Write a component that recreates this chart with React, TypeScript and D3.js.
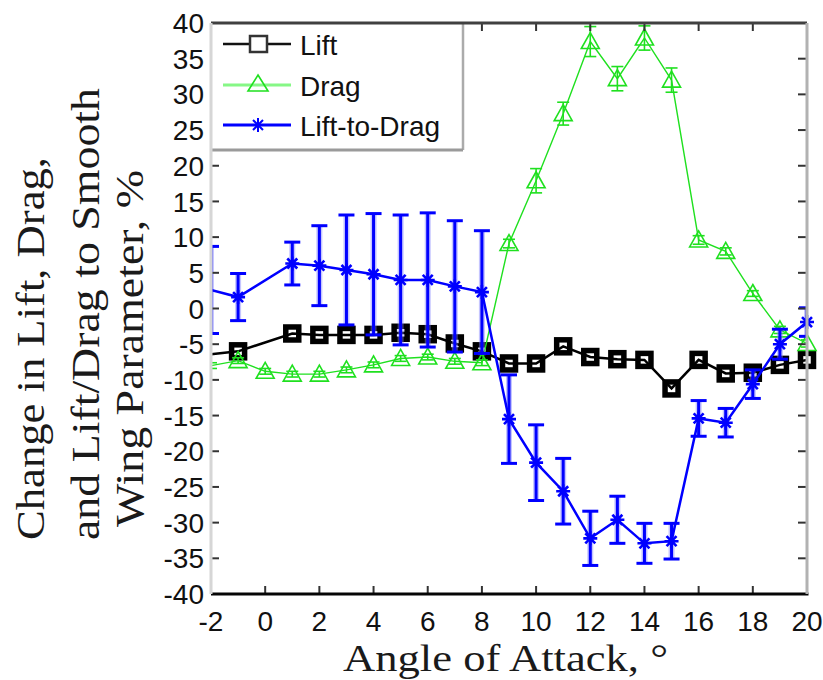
import React from "react";
import * as d3 from "d3";

// Angle of attack (degrees) for each series
const liftAngles = [-2, -1, 1, 2, 3, 4, 5, 6, 7, 8, 9, 10, 11, 12, 13, 14, 15, 16, 17, 18, 19, 20];
const liftValues = [-6.4, -6.0, -3.5, -3.7, -3.7, -3.7, -3.4, -3.6, -4.9, -6.0, -7.7, -7.7, -5.3, -6.8, -7.1, -7.2, -11.2, -7.2, -9.1, -9.0, -7.9, -7.2];

const dragAngles = [-2, -1, 0, 1, 2, 3, 4, 5, 6, 7, 8, 9, 10, 11, 12, 13, 14, 15, 16, 17, 18, 19, 20];
const dragValues = [-8.0, -7.3, -8.8, -9.2, -9.2, -8.6, -7.9, -7.0, -6.8, -7.4, -7.6, 9.1, 17.9, 27.3, 37.4, 32.2, 37.9, 32.0, 9.6, 8.0, 2.1, -3.0, -4.9];
const dragErrors = [0.4, 0.4, 0.4, 0.4, 0.4, 0.4, 0.4, 0.4, 0.4, 0.4, 0.4, 0.6, 1.7, 1.6, 2.1, 1.7, 1.7, 1.7, 0.6, 0.5, 0.4, 0.5, 0.5];

const ldAngles = [-2, -1, 1, 2, 3, 4, 5, 6, 7, 8, 9, 10, 11, 12, 13, 14, 15, 16, 17, 18, 19, 20];
const ldValues = [2.6, 1.6, 6.3, 6.0, 5.4, 4.8, 4.0, 4.0, 3.1, 2.3, -15.5, -21.6, -25.6, -32.2, -29.6, -32.9, -32.6, -15.4, -16.0, -10.6, -5.0, -1.9];
const ldErrors = [6.1, 3.3, 3.0, 5.6, 7.7, 8.5, 9.1, 9.4, 9.2, 8.6, 6.2, 5.3, 4.6, 3.8, 3.3, 2.8, 2.5, 2.5, 2.0, 2.0, 2.1, 2.0];

const xTicks = [-2, 0, 2, 4, 6, 8, 10, 12, 14, 16, 18, 20];
const yTicks = [-40, -35, -30, -25, -20, -15, -10, -5, 0, 5, 10, 15, 20, 25, 30, 35, 40];

const legendLabels = ["Lift", "Drag", "Lift-to-Drag"];
const xLabel = "Angle of Attack, \u00B0";
const yLabelLines = ["Change in Lift, Drag,", "and Lift/Drag to Smooth", "Wing Parameter, %"];

const W = 823;
const H = 680;
const L = 211;
const R = 807;
const T = 23;
const B = 594;

const BLUE = "#0000ff";
const GREEN = "#1fe01f";

const x = d3.scaleLinear().domain([-2, 20]).range([L, R]);
const y = d3.scaleLinear().domain([-40, 40]).range([B, T]);

type Pt = { a: number; v: number; e?: number };

const zip = (a: number[], v: number[], e?: number[]): Pt[] =>
  a.map((ang, i) => ({ a: ang, v: v[i], e: e ? e[i] : undefined }));

const liftPts = zip(liftAngles, liftValues);
const dragPts = zip(dragAngles, dragValues, dragErrors);
const ldPts = zip(ldAngles, ldValues, ldErrors);

const line = d3
  .line<Pt>()
  .x((d) => x(d.a))
  .y((d) => y(d.v));

// markers are drawn for points strictly inside the angle range
const inside = (d: Pt) => d.a > x.domain()[0];

const asterisk = "M-7,0H7M0,-7V7M-5,-5L5,5M-5,5L5,-5";
const triangle = "M0,-9L9,7L-9,7Z";

const sans = "'Liberation Sans', Arial, Helvetica, sans-serif";
const serif = "'Liberation Serif', 'Times New Roman', serif";

function ErrorBars({ pts, color, width, cap, halo }: { pts: Pt[]; color: string; width: number; cap: number; halo?: string }) {
  return (
    <g>
      {pts.map((d, i) => {
        const cx = x(d.a);
        const y1 = y(d.v + (d.e || 0));
        const y2 = y(d.v - (d.e || 0));
        return (
          <g key={i}>
            {halo && <line x1={cx} x2={cx} y1={y1} y2={y2} stroke={halo} strokeWidth={width + 3} opacity={0.45} />}
            <line x1={cx} x2={cx} y1={y1} y2={y2} stroke={color} strokeWidth={width} />
            <line x1={cx - cap} x2={cx + cap} y1={y1} y2={y1} stroke={color} strokeWidth={width} />
            <line x1={cx - cap} x2={cx + cap} y1={y2} y2={y2} stroke={color} strokeWidth={width} />
          </g>
        );
      })}
    </g>
  );
}

export default function App() {
  const legendRows = [44, 85, 125];
  return (
    <svg
      width={W}
      height={H}
      viewBox={`0 0 ${W} ${H}`}
      style={{ position: "absolute", left: 0, top: 0, background: "#fff" }}
    >
      <defs>
        <clipPath id="plotArea">
          <rect x={L} y={T} width={R - L} height={B - T} />
        </clipPath>
      </defs>
      <rect x={0} y={0} width={W} height={H} fill="#fff" />

      {/* Lift */}
      <g clipPath="url(#plotArea)">
        <path d={line(liftPts) || ""} fill="none" stroke="#000" strokeWidth={2.5} />
      </g>
      {liftPts.filter(inside).map((d, i) => (
        <rect
          key={i}
          x={x(d.a) - 6.5}
          y={y(d.v) - 6.5}
          width={13}
          height={13}
          fill="none"
          stroke="#000"
          strokeWidth={5.5}
        />
      ))}

      {/* Drag */}
      <g clipPath="url(#plotArea)">
        <path d={line(dragPts) || ""} fill="none" stroke={GREEN} strokeWidth={1.4} />
        <ErrorBars pts={dragPts} color={GREEN} width={1.6} cap={6} />
      </g>
      {dragPts.filter(inside).map((d, i) => (
        <path
          key={i}
          d={triangle}
          transform={`translate(${x(d.a)},${y(d.v)})`}
          fill="none"
          stroke={GREEN}
          strokeWidth={1.6}
        />
      ))}

      {/* Lift-to-Drag */}
      <g clipPath="url(#plotArea)">
        <ErrorBars pts={ldPts} color={BLUE} width={3} cap={8} halo="#7f7fff" />
        <path d={line(ldPts) || ""} fill="none" stroke={BLUE} strokeWidth={2.5} />
      </g>
      {ldPts.filter(inside).map((d, i) => (
        <path
          key={i}
          d={asterisk}
          transform={`translate(${x(d.a)},${y(d.v)})`}
          fill="none"
          stroke={BLUE}
          strokeWidth={2.6}
        />
      ))}

      {/* inward ticks */}
      <g stroke="#333" strokeWidth={2}>
        {xTicks.map((t) => (
          <g key={`xt${t}`}>
            <line x1={x(t)} x2={x(t)} y1={B} y2={B - 8} />
            <line x1={x(t)} x2={x(t)} y1={T} y2={T + 8} />
          </g>
        ))}
        {yTicks.map((t) => (
          <g key={`yt${t}`}>
            <line x1={L} x2={L + 8} y1={y(t)} y2={y(t)} />
            <line x1={R} x2={R - 9} y1={y(t)} y2={y(t)} />
          </g>
        ))}
      </g>

      {/* legend */}
      <g>
        <rect x={L} y={T} width={252} height={127} fill="#fff" />
        <line x1={L + 252} x2={L + 252} y1={T} y2={T + 127} stroke="#ababab" strokeWidth={2.5} />
        <line x1={L} x2={L + 252} y1={T + 127} y2={T + 127} stroke="#9a9a9a" strokeWidth={3} />

        <line x1={223} x2={291} y1={legendRows[0]} y2={legendRows[0]} stroke="#111" strokeWidth={2.5} />
        <rect x={250} y={legendRows[0] - 8} width={17} height={16} fill="#fff" stroke="#333" strokeWidth={2.5} />

        <line x1={223} x2={291} y1={legendRows[1]} y2={legendRows[1]} stroke="#86f786" strokeWidth={3} />
        <path d="M0,-11L10,5L-10,5Z" transform={`translate(258,${legendRows[1] + 1})`} fill="none" stroke={GREEN} strokeWidth={1.6} />

        <line x1={223} x2={291} y1={legendRows[2]} y2={legendRows[2]} stroke={BLUE} strokeWidth={3} />
        <path d={asterisk} transform={`translate(258,${legendRows[2]})`} fill="none" stroke={BLUE} strokeWidth={2} />

        {legendLabels.map((lab, i) => (
          <text key={lab} x={300} y={legendRows[i] + 11} fontFamily={sans} fontSize={28} fill="#111">
            {lab}
          </text>
        ))}
      </g>

      {/* axes box */}
      <line x1={L} x2={R} y1={T} y2={T} stroke="#404040" strokeWidth={3} />
      <line x1={L} x2={R + 1.5} y1={B} y2={B} stroke="#050505" strokeWidth={3} />
      <line x1={L} x2={L} y1={T} y2={B} stroke="#d6d6d6" strokeWidth={3} />
      <line x1={R} x2={R} y1={T} y2={B} stroke="#b2b2b2" strokeWidth={3} />

      {/* tick labels */}
      {xTicks.map((t) => (
        <text key={`xl${t}`} x={x(t)} y={631} textAnchor="middle" fontFamily={sans} fontSize={28} fill="#111">
          {t}
        </text>
      ))}
      {yTicks.map((t) => (
        <text key={`yl${t}`} x={204} y={y(t)} dy="0.36em" textAnchor="end" fontFamily={sans} fontSize={28} fill="#111">
          {t}
        </text>
      ))}

      {/* axis titles */}
      <text x={343} y={671} fontFamily={serif} fontSize={37} fill="#1a1a1a" textLength={325} lengthAdjust="spacingAndGlyphs">
        {xLabel}
      </text>
      {[
        { bx: 44, start: 540, len: 383 },
        { bx: 99, start: 540, len: 452 },
        { bx: 143, start: 527, len: 357 },
      ].map((p, i) => (
        <text
          key={i}
          transform={`translate(${p.bx},${p.start}) rotate(-90)`}
          fontFamily={serif}
          fontSize={39}
          fill="#1a1a1a"
          textLength={p.len}
          lengthAdjust="spacingAndGlyphs"
        >
          {yLabelLines[i]}
        </text>
      ))}
    </svg>
  );
}
